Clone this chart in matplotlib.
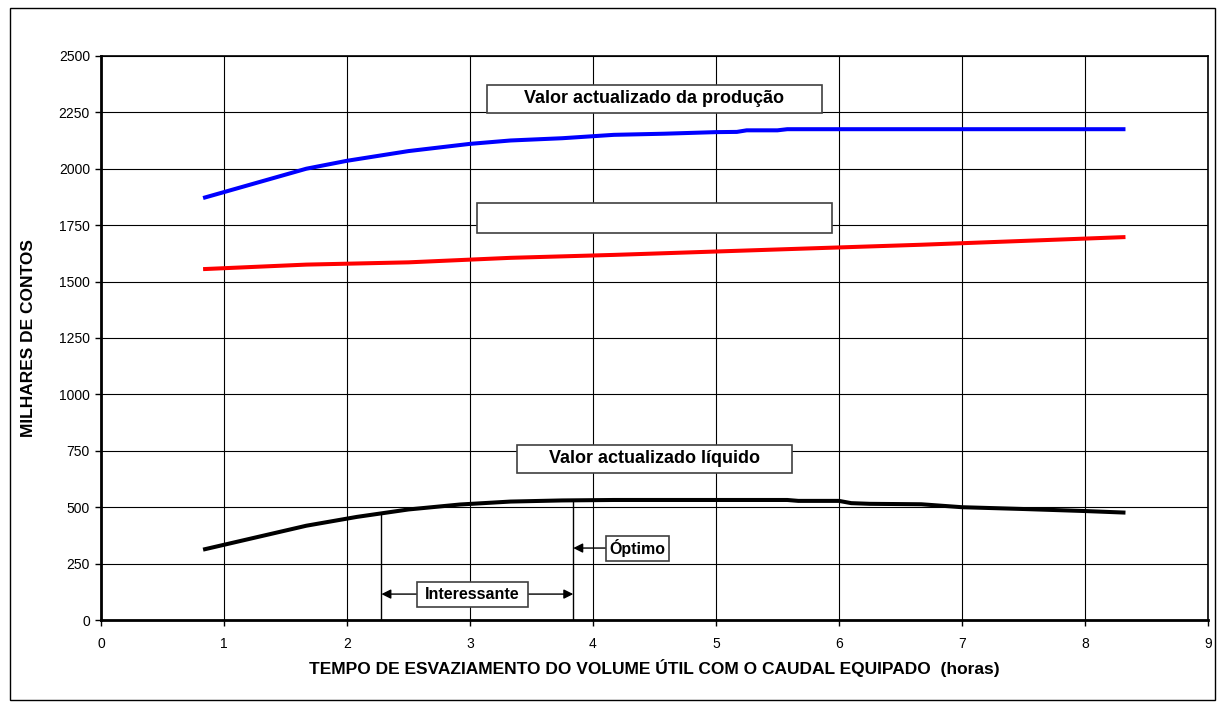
import numpy as np
import matplotlib.pyplot as plt
from matplotlib.patches import Rectangle

plt.rcParams['font.family'] = ['Liberation Sans', 'DejaVu Sans']

# hours to empty the useful volume
x_prod = [0.83, 1.25, 1.67, 2.0, 2.5, 3.0, 3.33, 3.75, 4.17, 4.58, 5.0, 5.17, 5.25, 5.5, 5.58, 6.0, 7.0, 8.33]
y_prod = [1870, 1935, 2000, 2035, 2078, 2110, 2125, 2135, 2150, 2155, 2162, 2163, 2170, 2170, 2175, 2175, 2175, 2175]

x_cost = [0.83, 1.67, 2.5, 3.33, 4.17, 5.0, 5.83, 6.67, 7.5, 8.33]
y_cost = [1555, 1575, 1585, 1605, 1618, 1633, 1648, 1663, 1680, 1697]

x_liq = [0.83, 1.25, 1.67, 2.08, 2.5, 2.92, 3.33, 3.75, 4.17, 5.0, 5.58, 5.67, 6.0, 6.1, 6.25, 6.67, 7.0, 7.5, 8.0, 8.33]
y_liq = [312, 365, 418, 457, 490, 512, 525, 530, 532, 532, 532, 528, 528, 518, 515, 513, 500, 492, 483, 476]

x_interessante = 2.28
x_optimo = 3.84

fig = plt.figure(figsize=(12.17, 7.07), dpi=100)
ax = fig.add_axes([0.083, 0.123, 0.9095, 0.798])

ax.plot(x_prod, y_prod, color='#0000ff', lw=2.9, solid_capstyle='butt')
ax.plot(x_cost, y_cost, color='#ff0000', lw=2.9, solid_capstyle='butt')
ax.plot(x_liq, y_liq, color='black', lw=2.9, solid_capstyle='butt')

ax.set_xlim(0, 9)
ax.set_ylim(0, 2500)
ax.set_xticks(np.arange(0, 10, 1))
ax.set_yticks(np.arange(0, 2750, 250))
ax.grid(True, color='black', lw=0.8)
ax.set_axisbelow(True)
for s in ax.spines.values():
    s.set_linewidth(1.2)
ax.spines['left'].set_linewidth(2)
ax.spines['bottom'].set_linewidth(2)
ax.tick_params(labelsize=10, length=4, width=1)
ax.tick_params(axis='x', pad=8)
ax.tick_params(axis='y', pad=4)

ax.set_xlabel('TEMPO DE ESVAZIAMENTO DO VOLUME ÚTIL COM O CAUDAL EQUIPADO  (horas)',
              fontsize=12.5, fontweight='bold', labelpad=6)
ax.set_ylabel('MILHARES DE CONTOS', fontsize=12.5, fontweight='bold', labelpad=16)

# label boxes
def box(xc, yc, w, h, text, size=13):
    ax.add_patch(Rectangle((xc - w / 2, yc - h / 2), w, h, facecolor='white',
                           edgecolor='#404040', lw=1.2, zorder=4))
    if text:
        ax.text(xc, yc, text, ha='center', va='center', fontsize=size,
                fontweight='bold', zorder=5)

box(4.5, 2309, 2.72, 124, 'Valor actualizado da produção')
box(4.5, 1782, 2.89, 133, '')
box(4.5, 714, 2.24, 124, 'Valor actualizado líquido')

# optimum / interesting range markers
y_liq_at = lambda xv: np.interp(xv, x_liq, y_liq)
ax.plot([x_interessante, x_interessante], [0, y_liq_at(x_interessante)], color='black', lw=1, zorder=3)
ax.plot([x_optimo, x_optimo], [0, y_liq_at(x_optimo)], color='black', lw=1, zorder=3)

arr = dict(arrowstyle='-|>', color='black', lw=1, mutation_scale=14, shrinkA=0, shrinkB=0)
ax.annotate('', xy=(x_interessante, 115), xytext=(3.02, 115), arrowprops=arr, zorder=3)
ax.annotate('', xy=(x_optimo, 115), xytext=(3.02, 115), arrowprops=arr, zorder=3)
box(3.02, 115, 0.9, 111, 'Interessante', size=11.5)
ax.annotate('', xy=(x_optimo, 319), xytext=(4.36, 319), arrowprops=arr, zorder=3)
box(4.36, 319, 0.51, 111, 'Óptimo', size=11.5)

# outer chart frame
fig.patches.append(Rectangle((0.008, 0.01), 0.99, 0.979, transform=fig.transFigure,
                             fill=False, edgecolor='black', lw=1))

fig.savefig('out.png', dpi=100)
